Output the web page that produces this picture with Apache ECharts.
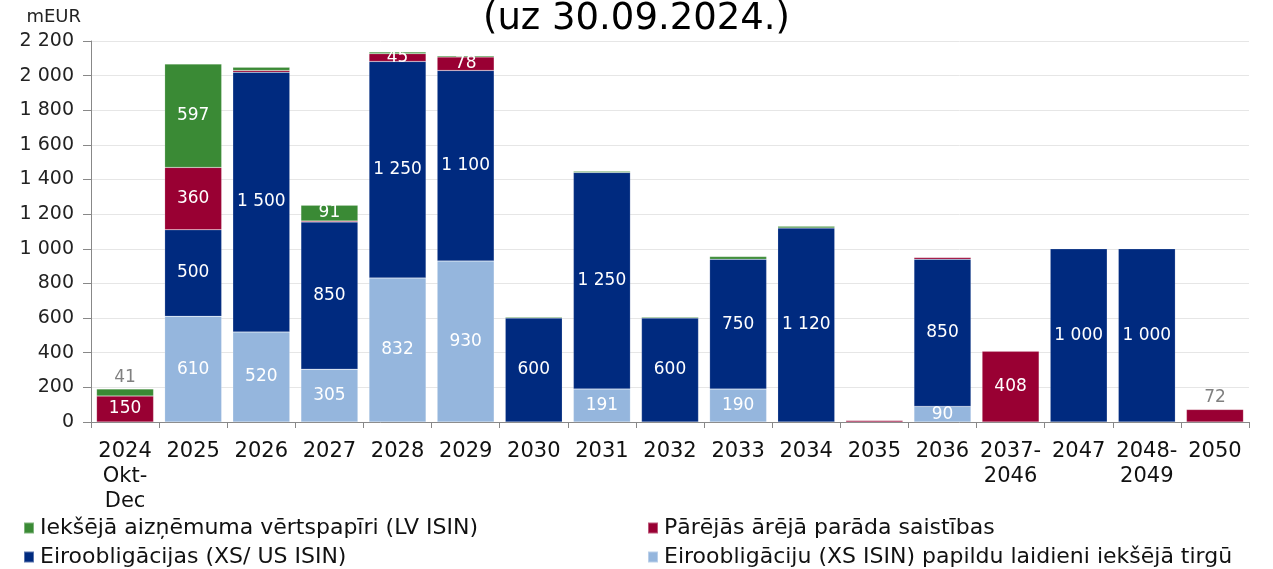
<!DOCTYPE html>
<html><head><meta charset="utf-8">
<script src="https://cdn.jsdelivr.net/npm/echarts@6/dist/echarts.min.js"></script>
<style>html,body{margin:0;padding:0;background:#fff}#c{width:1273px;height:569px}</style>
</head><body><div id="c"></div>
<script>
const categories = ['2024\nOkt-\nDec','2025','2026','2027','2028','2029','2030','2031','2032','2033','2034','2035','2036','2037-\n2046','2047','2048-\n2049','2050'];
const seriesNames = ['Iekšējā aizņēmuma vērtspapīri (LV ISIN)','Pārējās ārējā parāda saistības','Eiroobligācijas (XS/ US ISIN)','Eiroobligāciju (XS ISIN) papildu laidieni iekšējā tirgū'];
const lightBlue = [null,610,520,305,832,930,null,191,null,190,null,null,90,null,null,null,null];
const darkBlue  = [null,500,1500,850,1250,1100,600,1250,600,750,1120,null,850,null,1000,1000,null];
const red       = [150,360,10,6,45,78,null,null,null,null,null,8,10,408,null,null,72];
const green     = [41,597,18,91,10,7,6,7,6,15,10,null,null,null,null,null,null];
const yTicks = [0,200,400,600,800,1000,1200,1400,1600,1800,2000,2200];

const FONT = 'DejaVu Sans';
const fmt = v => String(v).replace(/\B(?=(\d{3})+(?!\d))/g, ' ');
const MIN_LABEL = 40;
const outsideIdx = {green:[0], red:[16]};

function build(arr, key){
  return arr.map((v,i)=>{
    if (v == null) return null;
    const o = {value:v};
    if (outsideIdx[key] && outsideIdx[key].includes(i)) {
      o.label = {show:true, position:'top', color:'#808080', distance:3};
    } else if (v < MIN_LABEL) {
      o.label = {show:false};
    }
    return o;
  });
}
const colors = {green:'#3a8a35', red:'#990033', dark:'#002a7f', light:'#95b6dd'};
function mk(name, arr, key, color){
  return {
    name, type:'bar', stack:'s', barWidth:57,
    data: build(arr, key),
    itemStyle:{color, borderColor:'rgba(255,255,255,0.35)', borderWidth:0.5},
    label:{show:true, position:'inside', color:'#fff', fontFamily:FONT, fontSize:17,
      formatter:p=>fmt(p.value)},
    emphasis:{disabled:true}
  };
}
function lg(name, left, top){
  return {left, top, orient:'horizontal', itemWidth:10, itemHeight:11, icon:'rect', itemGap:0,
    padding:0, data:[name],
    textStyle:{fontFamily:FONT, fontSize:22, color:'#111', padding:[0,0,0,1]}};
}
const chart = echarts.init(document.getElementById('c'), null, {renderer:'canvas'});
chart.setOption({
  animation:false,
  textStyle:{fontFamily:FONT},
  title:{text:'(uz 30.09.2024.)', left:'center', top:-4,
    textStyle:{fontFamily:FONT, fontSize:37, fontWeight:'normal', color:'#000'}},
  grid:{left:91, right:24, top:41, bottom:147, containLabel:false},
  legend:[
    lg(seriesNames[0], 23, 517),
    lg(seriesNames[2], 23, 546),
    lg(seriesNames[1], 647, 517),
    lg(seriesNames[3], 647, 546)
  ],
  xAxis:{type:'category', data:categories,
    axisLine:{lineStyle:{color:'#888'}},
    axisTick:{show:true, length:6, lineStyle:{color:'#888'}},
    axisLabel:{fontFamily:FONT, fontSize:21, color:'#111', lineHeight:25, margin:17, interval:0}},
  yAxis:{type:'value', min:yTicks[0], max:yTicks[yTicks.length-1], interval:200,
    name:'mEUR', nameLocation:'end', nameGap:15,
    nameTextStyle:{fontFamily:FONT, fontSize:18, color:'#222', align:'right', padding:[0,10,0,0]},
    axisLine:{show:true, lineStyle:{color:'#888'}},
    axisTick:{show:true, length:8, lineStyle:{color:'#888'}},
    splitLine:{lineStyle:{color:'#e6e6e6'}},
    axisLabel:{fontFamily:FONT, fontSize:19, color:'#222', margin:17, formatter:v=>fmt(v)}},
  series:[
    mk(seriesNames[3], lightBlue, 'light', colors.light),
    mk(seriesNames[2], darkBlue, 'dark', colors.dark),
    mk(seriesNames[1], red, 'red', colors.red),
    mk(seriesNames[0], green, 'green', colors.green)
  ]
});
</script></body></html>
